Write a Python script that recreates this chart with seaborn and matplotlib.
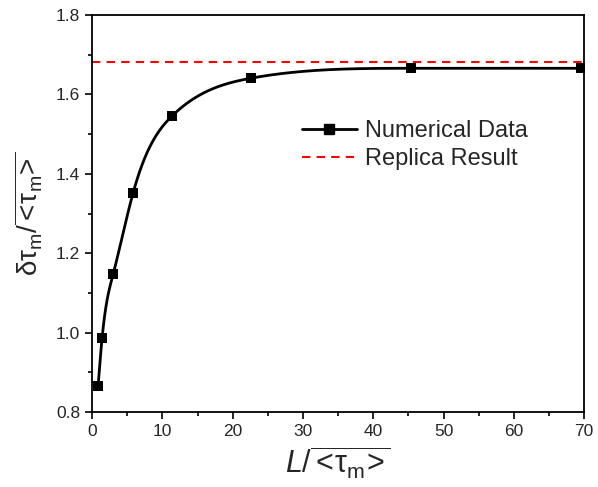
import numpy as np
import matplotlib
matplotlib.use("Agg")
import matplotlib.pyplot as plt
import seaborn as sns
import pandas as pd
from matplotlib.ticker import MultipleLocator
from matplotlib.lines import Line2D

# data
L_ratio = [0.85, 1.42, 2.99, 5.83, 11.38, 22.6, 45.4, 69.6]
delta_tau = [0.865, 0.986, 1.147, 1.352, 1.546, 1.641, 1.666, 1.666]
replica_value = 1.683

sns.set_theme(style="ticks")
plt.rcParams['font.family'] = ['Liberation Sans', 'DejaVu Sans']
plt.rcParams['mathtext.fontset'] = 'custom'
plt.rcParams['mathtext.rm'] = 'Liberation Sans'
plt.rcParams['mathtext.it'] = 'Liberation Sans:italic'

def natural_spline(x, y, xn):
    x = np.asarray(x, float); y = np.asarray(y, float)
    n = len(x); h = np.diff(x)
    A = np.zeros((n, n)); b = np.zeros(n)
    A[0, 0] = 1; A[-1, -1] = 1
    for i in range(1, n - 1):
        A[i, i-1] = h[i-1]; A[i, i] = 2 * (h[i-1] + h[i]); A[i, i+1] = h[i]
        b[i] = 3 * ((y[i+1] - y[i]) / h[i] - (y[i] - y[i-1]) / h[i-1])
    c = np.linalg.solve(A, b)
    bb = (y[1:] - y[:-1]) / h - h * (2 * c[:-1] + c[1:]) / 3
    d = (c[1:] - c[:-1]) / (3 * h)
    idx = np.clip(np.searchsorted(x, xn) - 1, 0, n - 2)
    t = xn - x[idx]
    return y[idx] + bb[idx] * t + c[idx] * t**2 + d[idx] * t**3

xs = np.linspace(L_ratio[0], L_ratio[-1], 800)
ys = natural_spline(L_ratio, delta_tau, xs)

fig = plt.figure(figsize=(5.98, 4.87), dpi=100)
ax = fig.add_axes([0.154, 0.154, 0.823, 0.815])

df = pd.DataFrame({"x": L_ratio, "y": delta_tau})
sns.lineplot(x=xs, y=ys, ax=ax, color='black', lw=2, legend=False)
sns.scatterplot(data=df, x="x", y="y", ax=ax, marker='s', s=45, color='black',
                edgecolor='black', linewidth=0, legend=False, zorder=5)
ax.axhline(replica_value, color='red', ls=(0, (4, 3)), lw=1.5)

h1 = Line2D([], [], color='black', lw=2, marker='s', markersize=7)
h2 = Line2D([], [], color='red', lw=1.5, ls=(0, (4, 3)))
ax.legend([h1, h2], ['Numerical Data', 'Replica Result'], loc='upper left',
          bbox_to_anchor=(0.426, 0.735), frameon=False, fontsize=17,
          handlelength=2.35, handletextpad=0.35, labelspacing=0.25,
          borderaxespad=0, borderpad=0)

ax.set_xlim(0, 70)
ax.set_ylim(0.8, 1.8)
ax.xaxis.set_major_locator(MultipleLocator(10))
ax.xaxis.set_minor_locator(MultipleLocator(5))
ax.yaxis.set_major_locator(MultipleLocator(0.2))
ax.yaxis.set_minor_locator(MultipleLocator(0.1))
ax.yaxis.set_major_formatter(matplotlib.ticker.FormatStrFormatter('%.1f'))
ax.tick_params(which='major', direction='out', length=5, width=1.2, labelsize=12.5,
               top=False, right=False, color='black')
ax.tick_params(which='minor', direction='out', length=3, width=1.2,
               top=False, right=False, color='black')
for s in ax.spines.values():
    s.set_linewidth(1.3)
    s.set_color('black')

ax.set_xlabel(r'$\mathit{L}/\overline{<\!\mathrm{τ}_\mathrm{m}\!>}$', fontsize=22, labelpad=4)
ax.set_ylabel(r'$\mathrm{δτ}_\mathrm{m}/\overline{<\!\mathrm{τ}_\mathrm{m}\!>}$', fontsize=20, labelpad=8)

fig.savefig('out.png', dpi=100)
